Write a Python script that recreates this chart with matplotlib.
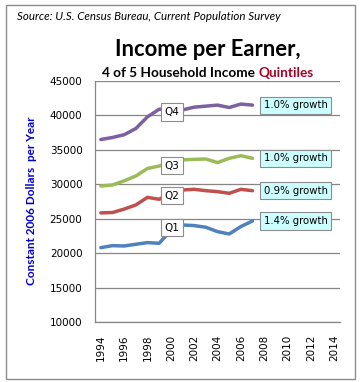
import matplotlib
matplotlib.use('Agg')
import matplotlib.pyplot as plt
from matplotlib.patches import Rectangle

# Datos
anos = [1994, 1995, 1996, 1997, 1998, 1999, 2000, 2001, 2002, 2003, 2004, 2005, 2006, 2007]
q4 = [36500, 36800, 37200, 38100, 39800, 40900, 40900, 40800, 41200, 41350, 41500, 41150, 41650, 41500]
q3 = [29750, 29900, 30500, 31200, 32300, 32650, 33200, 33550, 33620, 33670, 33150, 33770, 34150, 33770]
q2 = [25850, 25900, 26400, 27000, 28100, 27820, 28800, 29170, 29270, 29070, 28930, 28690, 29270, 29070]
q1 = [20800, 21090, 21040, 21290, 21530, 21430, 23300, 24090, 24000, 23760, 23130, 22780, 23860, 24670]
series = [q4, q3, q2, q1]
nomes = ['Q4', 'Q3', 'Q2', 'Q1']
cores = ['#7D60A0', '#9BBB59', '#C0504D', '#4F81BD']
crescimento = ['1.0% growth', '1.0% growth', '0.9% growth', '1.4% growth']
pos_rotulo = [40500, 32700, 28370, 23720]
anos_eixo = list(range(1994, 2015, 2))
ticks_y = list(range(10000, 45001, 5000))

W, H = 362, 382
fig = plt.figure(figsize=(W / 100, H / 100), dpi=100)
fig.patch.set_facecolor('white')

# Moldura externa
fig.patches.append(Rectangle((6 / W, 1 - 379 / H), 349 / W, 374 / H, transform=fig.transFigure,
                             fill=False, edgecolor='#8c8c8c', linewidth=1.0))

ax = fig.add_axes([95 / W, 1 - 322 / H, 245 / W, 241 / H])
for s, c in zip(series, cores):
    ax.plot(anos, s, color=c, linewidth=2.5, solid_joinstyle='round', solid_capstyle='round', zorder=3)

# Rótulos Q1..Q4
for nome, y in zip(nomes, pos_rotulo):
    ax.text(2000.1, y, nome, ha='center', va='center', fontsize=7.5, family='DejaVu Sans', zorder=5,
            bbox=dict(boxstyle='square,pad=0.35', fc='white', ec='#8c8c8c', lw=0.8))

# Rótulos de crescimento
for s, txt in zip(series, crescimento):
    ax.text(2007.95, s[-1], txt, ha='left', va='center', fontsize=7.3, family='DejaVu Sans', zorder=5,
            bbox=dict(boxstyle='square,pad=0.35', fc='#CCFFFF', ec='#8c8c8c', lw=0.8))

ax.set_xlim(1993.5, 2014.5)
ax.set_ylim(10000, 45000)
ax.set_xticks(anos_eixo)
ax.set_xticklabels([str(a) for a in anos_eixo], rotation=90, fontsize=7.5)
ax.set_yticks(ticks_y)
ax.set_yticklabels([str(v) for v in ticks_y], fontsize=7.5)
ax.tick_params(length=0, pad=9)
ax.grid(axis='y', color='#868686', linewidth=0.9)
ax.set_axisbelow(True)
for lado in ['top', 'right']:
    ax.spines[lado].set_visible(False)
for lado in ['left', 'bottom']:
    ax.spines[lado].set_color('#868686')
    ax.spines[lado].set_linewidth(0.9)

# Textos
fig.text(17 / W, 1 - 17 / H, 'Source: U.S. Census Bureau, Current Population Survey',
         fontsize=8.3, style='italic', family='Lato', va='center', ha='left')
fig.text(208 / W, 1 - 56 / H, 'Income per Earner,', fontsize=15.8, weight='bold', family='Lato',
         ha='center', va='baseline')
t1 = fig.text(102 / W, 1 - 77 / H, '4 of 5 Household Income ', fontsize=9.8, weight='bold',
              family='Lato', ha='left', va='baseline')
fig.canvas.draw()
bb = t1.get_window_extent(renderer=fig.canvas.get_renderer())
fig.text(bb.x1 / W, 1 - 77 / H, 'Quintiles', fontsize=9.8, weight='bold', family='Lato',
         color='#A50021', ha='left', va='baseline')
fig.text(32 / W, 1 - 201 / H, 'Constant 2006 Dollars  per Year', rotation=90, fontsize=8.5,
         weight='bold', family='Lato', color='#0000CC', ha='center', va='center')

fig.savefig('out.png', dpi=100)
